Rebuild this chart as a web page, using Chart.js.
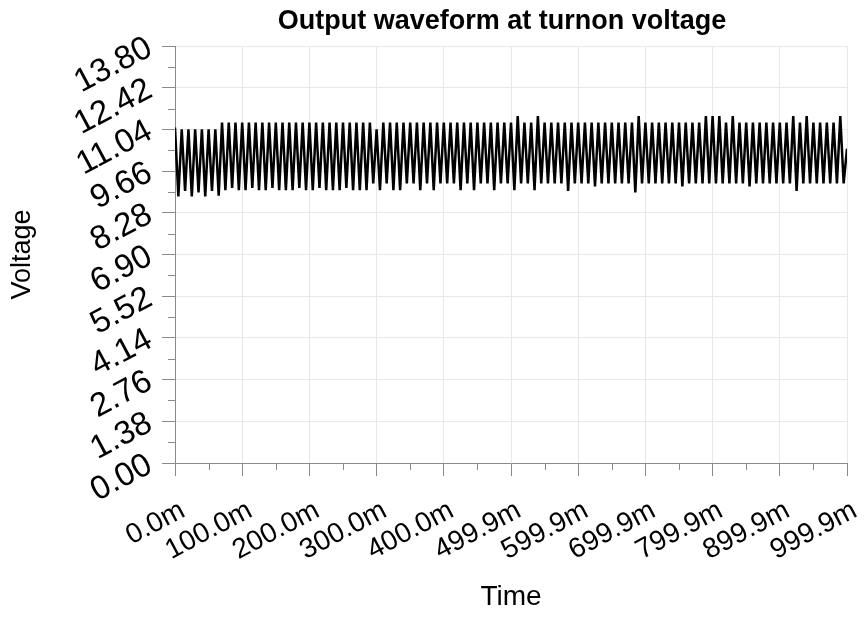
<!DOCTYPE html>
<html><head><meta charset="utf-8">
<script src="https://cdn.jsdelivr.net/npm/chart.js@4/dist/chart.umd.min.js"></script>
<style>html,body{margin:0;padding:0;background:#fff}canvas{display:block}</style>
</head><body>
<canvas id="c" width="864" height="618"></canvas>
<script>
const chartTitle = 'Output waveform at turnon voltage';
const xTitle = 'Time';
const yTitle = 'Voltage';
const xTickValues = [0,100,200,300,400,500,600,700,800,900,1000];
const xTickLabels = ['0.0m','100.0m','200.0m','300.0m','400.0m','499.9m','599.9m','699.9m','799.9m','899.9m','999.9m'];
const yTickValues = [0,1.38,2.76,4.14,5.52,6.9,8.28,9.66,11.04,12.42,13.8];
const yTickLabels = ['0.00','1.38','2.76','4.14','5.52','6.90','8.28','9.66','11.04','12.42','13.80'];

// time (ms) of each ripple peak and trough
const peakT = [0,10,20,30,40,50,60,70,80,90,100,110,120,130,140,150,160,170,180,190,200,210,220,230,240,250,260,270,280,290,300,310,320,330,340,350,360,370,380,390,400,410,420,430,440,450,460,470,480,490,500,510,520,530,540,550,560,570,580,590,600,610,620,630,640,650,660,670,680,690,700,710,720,730,740,750,760,770,780,790,800,810,820,830,840,850,860,870,880,890,900,910,920,930,940,950,960,970,980,990];
const troughT = [5,15,25,35,45,55,65,75,85,95,105,115,125,135,145,155,165,175,185,195,205,215,225,235,245,255,265,275,285,295,305,315,325,335,345,355,365,375,385,395,405,415,425,435,445,455,465,475,485,495,505,515,525,535,545,555,565,575,585,595,605,615,625,635,645,655,665,675,685,695,705,715,725,735,745,755,765,775,785,795,805,815,825,835,845,855,865,875,885,895,905,915,925,935,945,955,965,975,985,995];
// voltage at each peak / trough (V)
const peakV = [11.10,11.04,11.04,11.04,11.04,11.04,11.04,
 11.27,11.27,11.27,11.27,11.27,11.27,11.27,11.27,11.27,11.27,11.27,11.27,11.27,11.27,11.27,11.27,11.27,11.27,11.27,11.27,11.27,11.27,11.27,
 11.04,
 11.27,11.27,11.27,11.27,11.27,11.27,11.27,11.27,11.27,11.27,11.27,11.27,11.27,11.27,11.27,11.27,11.27,11.27,11.27,11.27,
 11.48,11.27,11.27,11.48,
 11.27,11.27,11.27,11.27,11.27,11.27,11.27,11.27,11.27,11.27,11.27,11.27,11.27,11.27,
 11.48,
 11.27,11.27,11.27,11.27,11.27,11.27,11.27,11.27,11.27,
 11.48,11.48,11.48,11.27,11.48,
 11.27,11.27,11.27,11.27,11.27,11.27,11.27,11.27,
 11.48,11.27,11.48,11.27,11.27,11.27,11.27,11.48];
const troughV = [8.82,9.00,8.82,8.95,8.82,9.00,8.85,
 9.03,9.10,9.03,9.03,9.10,9.03,9.03,9.10,9.03,9.03,9.03,9.10,9.03,9.03,9.10,9.03,9.03,9.03,9.10,9.03,9.03,
 9.03,9.25,9.03,9.25,9.03,9.03,9.25,9.25,9.03,9.25,9.03,9.25,9.25,9.25,9.03,9.25,9.03,9.25,9.25,9.03,9.25,9.25,9.03,9.25,9.25,9.03,9.25,
 9.25,9.25,9.25,9.00,9.25,9.25,9.25,9.15,9.25,9.25,9.25,9.25,9.25,8.95,9.25,9.25,9.25,9.25,9.25,9.25,9.15,9.25,9.25,9.25,9.25,9.25,9.25,9.25,9.25,9.25,9.15,9.25,9.25,9.25,9.25,9.25,9.25,9.00,9.25,9.25,9.25,9.25,9.25,9.25,9.25];
const endT = 1000;
const endV = 10.40;

const points = [];
for (let i = 0; i < peakT.length; i++) {
  points.push({x: peakT[i], y: peakV[i]});
  points.push({x: troughT[i], y: troughV[i]});
}
points.push({x: endT, y: endV});

const FONT = '"Liberation Sans", Arial, sans-serif';
const AXIS = '#8a8a8a';
const GRID = '#e8e8e8';

const extras = {
  id: 'extras',
  afterDraw(chart) {
    const {ctx, chartArea: a, scales: {x, y}} = chart;
    ctx.save();
    ctx.strokeStyle = AXIS;
    ctx.lineWidth = 1;
    ctx.beginPath();
    for (let i = 0; i < xTickValues.length - 1; i++) {
      const px = Math.round(x.getPixelForValue((xTickValues[i] + xTickValues[i+1]) / 2)) + 0.5;
      ctx.moveTo(px, a.bottom); ctx.lineTo(px, a.bottom + 7);
    }
    for (let i = 0; i < yTickValues.length - 1; i++) {
      const py = Math.round(y.getPixelForValue((yTickValues[i] + yTickValues[i+1]) / 2)) + 0.5;
      ctx.moveTo(a.left - 7, py); ctx.lineTo(a.left, py);
    }
    ctx.stroke();
    ctx.fillStyle = '#000';
    ctx.font = 'bold 27px ' + FONT;
    ctx.textAlign = 'center';
    ctx.textBaseline = 'middle';
    ctx.fillText(chartTitle, 502, 22);
    ctx.restore();
  }
};

new Chart(document.getElementById('c'), {
  type: 'line',
  data: { datasets: [{ data: points, borderColor: '#000', borderWidth: 2.5, pointRadius: 0, tension: 0, fill: false }] },
  options: {
    responsive: false, animation: false, devicePixelRatio: 1,
    layout: { padding: { top: 46, right: 17, left: 0, bottom: 0 } },
    plugins: { legend: { display: false }, title: { display: false }, tooltip: { enabled: false } },
    scales: {
      x: {
        type: 'linear', min: 0, max: 1000,
        afterBuildTicks: s => { s.ticks = xTickValues.map(v => ({value: v})); },
        afterFit: s => { s.height = 155; s.paddingLeft = 0; s.paddingRight = 0; s.paddingTop = 0; s.paddingBottom = 0; },
        ticks: { autoSkip: false, minRotation: 28, maxRotation: 28, padding: 18, labelOffset: 8, color: '#000',
          font: { family: FONT, size: 28 },
          callback: (v, i) => xTickLabels[i] },
        grid: { color: GRID, tickColor: AXIS, tickLength: 13, lineWidth: 1 },
        border: { color: AXIS, width: 1 },
        title: { display: true, text: xTitle, color: '#000', font: { family: FONT, size: 28 }, padding: { top: 0, bottom: 4 } }
      },
      y: {
        type: 'linear', min: 0, max: 13.8,
        afterBuildTicks: s => { s.ticks = yTickValues.map(v => ({value: v})); },
        afterFit: s => { s.width = 175; s.paddingLeft = 0; s.paddingRight = 0; s.paddingTop = 0; s.paddingBottom = 0; },
        ticks: { autoSkip: false, minRotation: 28, maxRotation: 28, padding: 12, color: '#000',
          font: { family: FONT, size: 33 },
          callback: (v, i) => yTickLabels[i] },
        grid: { color: GRID, tickColor: AXIS, tickLength: 13, lineWidth: 1 },
        border: { color: AXIS, width: 1 },
        title: { display: true, text: yTitle, color: '#000', font: { family: FONT, size: 27 }, padding: { top: 6, bottom: 0 } }
      }
    }
  },
  plugins: [extras]
});
</script>
</body></html>
